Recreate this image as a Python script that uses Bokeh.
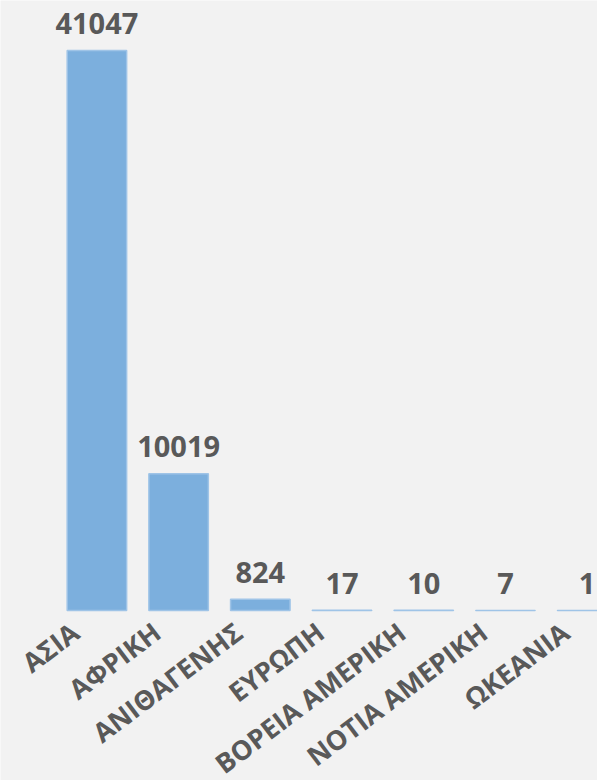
import math
from bokeh.plotting import figure
from bokeh.models import ColumnDataSource, Range1d
from bokeh.core.properties import value
from bokeh.embed import file_html
from bokeh.resources import INLINE

# ---- data ----
categories = ["ΑΣΙΑ", "ΑΦΡΙΚΗ", "ΑΝΙΘΑΓΕΝΗΣ", "ΕΥΡΩΠΗ",
              "ΒΟΡΕΙΑ ΑΜΕΡΙΚΗ", "ΝΟΤΙΑ ΑΜΕΡΙΚΗ", "ΩΚΕΑΝΙΑ"]
counts = [41047, 10019, 824, 17, 10, 7, 1]
count_labels = [str(c) for c in counts]
positions = list(range(len(categories)))

# ---- layout ----
W, H = 597, 780
px_per_unit = 560 / 41047.0
base_px = 610
y_end = base_px / px_per_unit
y_start = -(H - base_px) / px_per_unit

src = ColumnDataSource(dict(x=positions, top=counts, cat=categories, lab=count_labels))

p = figure(width=W, height=H,
           x_range=Range1d(-1.18, 6.127), y_range=Range1d(y_start, y_end),
           output_backend="svg", toolbar_location=None,
           x_axis_location=None, y_axis_location=None,
           min_border=0, background_fill_color="#f2f2f2",
           border_fill_color="#f2f2f2", outline_line_color=None)
p.xgrid.visible = False
p.ygrid.visible = False

p.vbar(x="x", top="top", bottom=0, width=0.728, source=src,
       fill_color="#7cafdd", line_color="#9fc4e7", line_width=1.5)

p.text(x="x", y="top", text="lab", source=src,
       text_align="center", text_baseline="alphabetic", y_offset=-27,
       text_font=value("Open Sans"), text_font_style="bold",
       text_font_size="29px", text_color="#595959")

p.text(x="x", y=0, text="cat", source=src,
       angle=math.radians(37), text_align="right", text_baseline="top",
       x_offset=-33, y_offset=3,
       text_font=value("Open Sans"), text_font_style="bold",
       text_font_size="27px", text_color="#595959")

open("out.html", "w").write(file_html(p, INLINE))
